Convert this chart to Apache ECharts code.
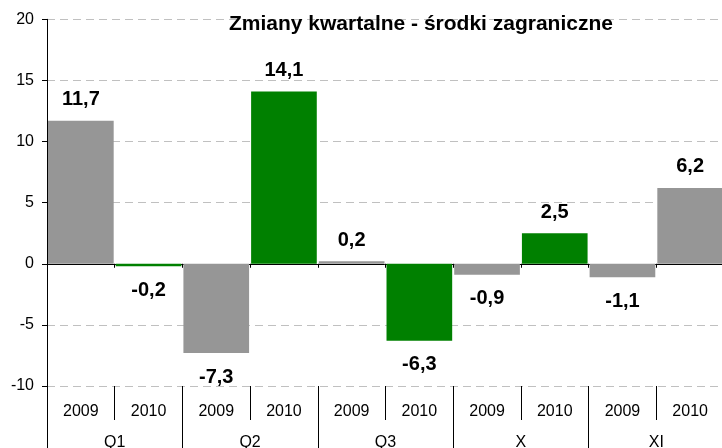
<!DOCTYPE html>
<html>
<head>
<meta charset="utf-8">
<script src="https://cdn.jsdelivr.net/npm/echarts@6/dist/echarts.min.js"></script>
<style>
html,body{margin:0;padding:0;background:#fff;}
#chart{width:722px;height:448px;}
</style>
</head>
<body>
<div id="chart"></div>
<script>
const titleText = 'Zmiany kwartalne - środki zagraniczne';
const years = ['2009','2010','2009','2010','2009','2010','2009','2010','2009','2010'];
const groups = ['Q1','Q2','Q3','X','XI'];
const values = [11.7, -0.2, -7.3, 14.1, 0.2, -6.3, -0.9, 2.5, -1.1, 6.2];
const barColors = ['#969696','#008000','#969696','#008000','#969696','#008000','#969696','#008000','#969696','#969696'];
const yMin = -10, yMax = 20, yStep = 5;

const FONT = '"Liberation Sans", Arial, sans-serif';
const chart = echarts.init(document.getElementById('chart'), null, {renderer:'canvas'});

const seriesData = values.map((v, i) => ({
  value: v,
  itemStyle: { color: barColors[i] },
  label: v < 0 ? { position: 'bottom', distance: 14 } : { position: 'top', distance: 11 }
}));

chart.setOption({
  animation: false,
  backgroundColor: '#fff',
  textStyle: { fontFamily: FONT },
  title: {
    text: titleText,
    left: 224, top: 9,
    textStyle: { fontSize: 21, fontWeight: 'bold', color: '#000', fontFamily: FONT }
  },
  grid: { left: 47, right: -2, top: 19.3, bottom: 62, containLabel: false, outerBoundsMode: 'none' },
  xAxis: [
    {
      type: 'category', data: years, position: 'bottom',
      axisLine: { show: true, onZero: true, lineStyle: { color: '#000', width: 1 } },
      axisTick: { show: true, length: 4, interval: 0, lineStyle: { color: '#000' } },
      axisLabel: { show: false },
      splitLine: { show: false }
    },
    {
      type: 'category', data: years, position: 'bottom',
      axisLine: { show: false, onZero: false },
      axisTick: { show: true, length: 34, interval: 0, lineStyle: { color: '#000' } },
      axisLabel: { show: true, interval: 0, margin: 18, fontSize: 16, color: '#000', fontFamily: FONT },
      splitLine: { show: false }
    },
    {
      type: 'category', data: groups, position: 'bottom',
      axisLine: { show: false, onZero: false },
      axisTick: { show: true, length: 64, interval: 0, lineStyle: { color: '#000' } },
      axisLabel: { show: true, interval: 0, margin: 49, fontSize: 16, color: '#000', fontFamily: FONT },
      splitLine: { show: false }
    }
  ],
  yAxis: {
    type: 'value', min: yMin, max: yMax, interval: yStep,
    axisLine: { show: true, lineStyle: { color: '#000' } },
    axisTick: { show: true, length: 5, lineStyle: { color: '#000' } },
    axisLabel: { fontSize: 16, color: '#000', margin: 13, fontFamily: FONT },
    splitLine: { show: true, lineStyle: { color: '#c0c0c0', type: [8, 5], width: 1 } }
  },
  series: [{
    type: 'bar',
    xAxisIndex: 0,
    data: seriesData,
    barCategoryGap: '3%',
    label: {
      show: true,
      fontSize: 20, fontWeight: 'bold', color: '#000', fontFamily: FONT,
      formatter: p => String(p.value).replace('.', ',')
    }
  }]
});
</script>
</body>
</html>
